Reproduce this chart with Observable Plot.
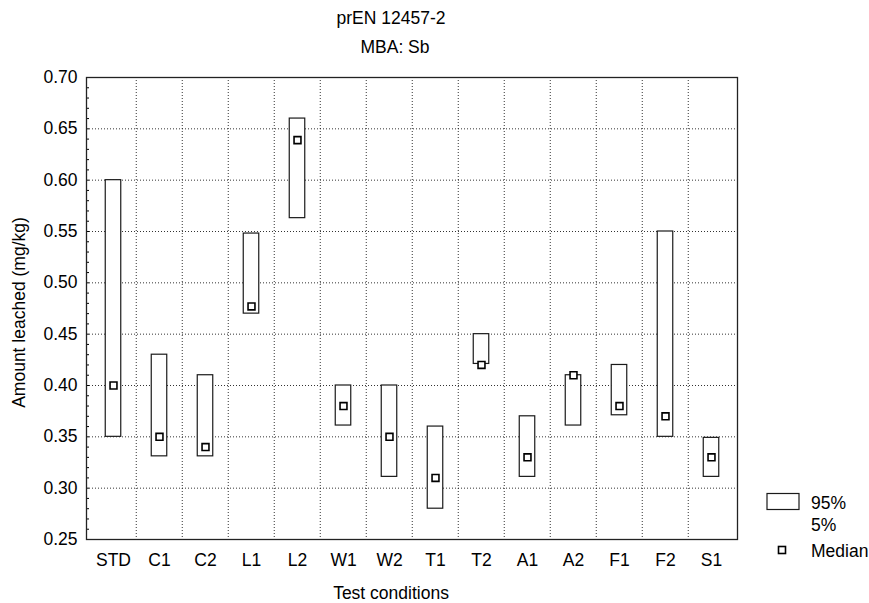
<!DOCTYPE html>
<html>
<head>
<meta charset="utf-8">
<script src="https://cdn.jsdelivr.net/npm/d3@7"></script>
<script src="https://cdn.jsdelivr.net/npm/@observablehq/plot@0.6"></script>
<style>
  html, body { margin: 0; padding: 0; background: #fff; }
  #chart { position: relative; width: 869px; height: 603px; }
  svg { font-family: "Liberation Sans", Arial, sans-serif; }
</style>
</head>
<body>
<div id="chart"></div>
<script>
const categories = ["STD","C1","C2","L1","L2","W1","W2","T1","T2","A1","A2","F1","F2","S1"];
const p95 =    [0.60, 0.43, 0.41, 0.548, 0.66, 0.40, 0.40, 0.36, 0.45, 0.37, 0.41, 0.42, 0.55, 0.349];
const p5 =     [0.35, 0.331, 0.331, 0.47, 0.563, 0.361, 0.311, 0.28, 0.421, 0.311, 0.361, 0.371, 0.35, 0.311];
const median = [0.40, 0.35, 0.34, 0.477, 0.639, 0.38, 0.35, 0.31, 0.42, 0.33, 0.41, 0.38, 0.37, 0.33];
const yTicks = [0.25, 0.30, 0.35, 0.40, 0.45, 0.50, 0.55, 0.60, 0.65, 0.70];
const title = "prEN 12457-2";
const subtitle = "MBA: Sb";
const xLabel = "Test conditions";
const yLabel = "Amount leached (mg/kg)";
const legendLabels = ["95%", "5%", "Median"];

const data = categories.map((c, i) => ({cat: c, hi: p95[i], lo: p5[i], med: median[i]}));

const W = 869, H = 603;
const mL = 86, mR = 132, mT = 77, mB = 64;
const band = (W - mL - mR) / categories.length;
const minorTicks = d3.range(25, 71).map(d => d / 100);
const fs = 17.5;

const plot = Plot.plot({
  width: W, height: H,
  marginLeft: mL, marginRight: mR, marginTop: mT, marginBottom: mB,
  style: {fontFamily: '"Liberation Sans", Arial, sans-serif', fontSize: fs + "px", color: "#000", background: "#fff", overflow: "visible"},
  x: {type: "band", domain: categories, padding: 0},
  y: {domain: [0.25, 0.70]},
  marks: [
    // grid
    Plot.ruleY(yTicks.slice(1, -1), {stroke: "#000", strokeOpacity: 0.8, strokeDasharray: "1,2"}),
    Plot.ruleX(categories.slice(1), {x: d => d, dx: -band / 2, stroke: "#000", strokeOpacity: 0.8, strokeDasharray: "1,2"}),
    // minor ticks (inward)
    Plot.axisY({ticks: minorTicks, tickSize: -3, tickFormat: () => "", stroke: "#000", label: null}),
    // axes
    Plot.axisY({ticks: yTicks, tickSize: 0, tickPadding: 9, tickFormat: d3.format(".2f"), label: null, fontSize: fs}),
    Plot.axisX({tickSize: 0, tickPadding: 14, label: null, fontSize: fs}),
    // boxes
    Plot.barY(data, {x: "cat", y1: "lo", y2: "hi", fill: "#fff", stroke: "#1a1a1a", strokeWidth: 1.2, insetLeft: 15.25, insetRight: 15.25}),
    // medians
    Plot.dot(data, {x: "cat", y: "med", symbol: "square", r: 3.9, fill: "#fff", stroke: "#000", strokeWidth: 1.6}),
    Plot.frame({stroke: "#222", strokeWidth: 1.3}),
    // titles and labels
    Plot.text([title], {frameAnchor: "top", dx: -21, dy: -54, lineAnchor: "bottom", fontSize: fs, fill: "#000"}),
    Plot.text([subtitle], {frameAnchor: "top", dx: -17, dy: -25, lineAnchor: "bottom", fontSize: fs, fill: "#000"}),
    Plot.text([xLabel], {frameAnchor: "bottom", dx: -21, dy: 59, lineAnchor: "bottom", fontSize: fs, fill: "#000"}),
    Plot.text([yLabel], {frameAnchor: "left", dx: -67, dy: 4, rotate: -90, lineAnchor: "middle", textAnchor: "middle", fontSize: fs, fill: "#000"})
  ]
});

document.getElementById("chart").appendChild(plot);

// legend
const svg = d3.select(plot);
const lg = svg.append("g")
  .attr("font-family", '"Liberation Sans", Arial, sans-serif')
  .attr("font-size", fs + "px")
  .attr("text-anchor", "start")
  .attr("fill", "#000");
lg.append("rect").attr("x", 767).attr("y", 493.5).attr("width", 32).attr("height", 16).attr("fill", "#fff").attr("stroke", "#1a1a1a").attr("stroke-width", 1.2);
lg.append("text").attr("x", 811).attr("y", 509).attr("text-anchor", "start").text(legendLabels[0]);
lg.append("text").attr("x", 811).attr("y", 531).attr("text-anchor", "start").text(legendLabels[1]);
lg.append("rect").attr("x", 778.5).attr("y", 546.5).attr("width", 7).attr("height", 7).attr("fill", "#fff").attr("stroke", "#000").attr("stroke-width", 1.6);
lg.append("text").attr("x", 811).attr("y", 557).attr("text-anchor", "start").text(legendLabels[2]);
</script>
</body>
</html>
